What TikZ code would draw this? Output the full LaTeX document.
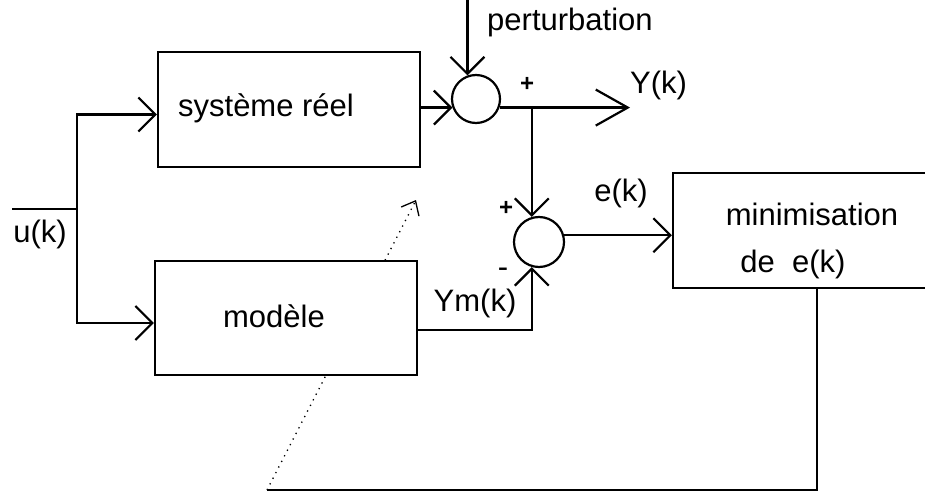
\documentclass[tikz,border=0pt]{standalone}
\usepackage{fontspec}
\setmainfont{Liberation Sans}
\usetikzlibrary{arrows.meta}
\begin{document}
\begin{tikzpicture}[x=1pt,y=-1pt,
  txt/.style={font=\fontsize{31}{37}\selectfont, inner sep=0pt},
  sgn/.style={font=\fontsize{24}{28}\selectfont\bfseries, inner sep=0pt},
  blk/.style={draw, line width=2.2pt, fill=white, inner sep=0pt},
  sumc/.style={circle, draw, line width=2.2pt, minimum size=48pt, inner sep=0pt},
  ln/.style={line width=2.2pt},
  arr/.style={ln, -{Straight Barb[length=17pt,width=34pt]}},
  bigarr/.style={ln, -{Straight Barb[length=32pt,width=36pt]}},
  darr/.style={line width=1.3pt, dash pattern=on 1.3pt off 5pt, -{Straight Barb[length=12pt,width=20pt]}}
]
\useasboundingbox (0,0) rectangle (925,497);
\clip (0,0) rectangle (925,497);
% dotted adjustment arrow (passes behind the model block)
\coordinate (fbc) at (267,490);
\coordinate (dtip) at (416,200);
\draw[darr] (fbc) -- (dtip);
% blocks
\node[blk, minimum width=262pt, minimum height=115pt] (sys) at (289,109.5) {};
\node[txt, anchor=base] (systxt) at (266,117) {système réel};
\node[blk, minimum width=262pt, minimum height=114pt] (mod) at (286,318) {};
\node[txt, anchor=base] (modtxt) at (274,327) {modèle};
\node[blk, minimum width=288pt, minimum height=115pt] (min) at (817,230.5) {};
\node[txt, anchor=base] (mintxt1) at (812,225) {minimisation};
\node[txt, anchor=base] (mintxt2) at (793,272) {de\ \ e(k)};
% summing junctions
\node[sumc] (s1) at (476,99) {};
\node[sumc, minimum size=50pt] (s2) at (539,242) {};
% input
\coordinate (uin) at (12,209);
\coordinate (j) at (77,209);
\draw[ln] (uin) -- (j);
\node[txt, anchor=base] (ulab) at (40,242) {u(k)};
\draw[arr] (j) |- ([yshift=-5pt]sys.west);
\draw[arr] (j) |- ([yshift=-5pt]mod.west);
% perturbation
\coordinate (ptop) at (0,-2);
\draw[arr] (s1.110 |- ptop) -- (s1.110);
\node[txt, anchor=base west] (ptxt) at (487,31) {perturbation};
% system output
\draw[arr] (sys.east |- s1.200) -- (s1.200);
\coordinate (yk) at (630,0);
\draw[bigarr] (s1.340) -- (s1.340 -| yk);
\node[txt, anchor=base west] (yklab) at (630,94) {Y(k)};
\node[sgn] (p1) at (527,84) {+};
\draw[arr] (s2.106 |- s1.340) -- (s2.106);
\node[sgn] (p2) at (506,208) {+};
\node[txt] (m2) at (503,273) {-};
% model output
\draw[arr] ([yshift=-12pt]mod.east) -| (s2.254);
\node[txt, anchor=base] (ymlab) at (475,311) {Ym(k)};
% error
\draw[arr] (s2.15) -- (s2.15 -| min.west);
\node[txt, anchor=base] (eklab) at (621,201) {e(k)};
% feedback
\draw[ln] (min.south) |- (fbc);
\end{tikzpicture}
\end{document}
